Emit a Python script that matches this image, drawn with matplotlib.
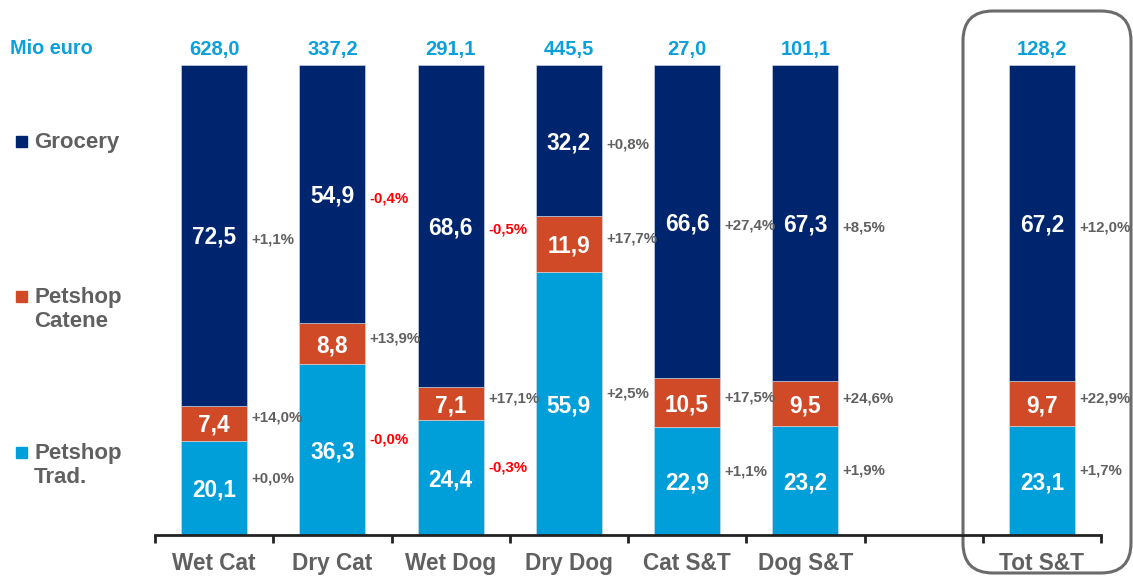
import matplotlib
matplotlib.use("Agg")
import matplotlib.pyplot as plt
from matplotlib.patches import FancyBboxPatch, Rectangle

plt.rcParams['font.family'] = ['Liberation Sans', 'DejaVu Sans']
plt.rcParams['font.weight'] = 'bold'

categories = ["Wet Cat", "Dry Cat", "Wet Dog", "Dry Dog", "Cat S&T", "Dog S&T", "Tot S&T"]
positions = [0, 1, 2, 3, 4, 5, 7]
totals = ["628,0", "337,2", "291,1", "445,5", "27,0", "101,1", "128,2"]

trad = [20.1, 36.3, 24.4, 55.9, 22.9, 23.2, 23.1]
catene = [7.4, 8.8, 7.1, 11.9, 10.5, 9.5, 9.7]
grocery = [72.5, 54.9, 68.6, 32.2, 66.6, 67.3, 67.2]

growth_trad_txt = ["+0,0%", "-0,0%", "-0,3%", "+2,5%", "+1,1%", "+1,9%", "+1,7%"]
growth_catene_txt = ["+14,0%", "+13,9%", "+17,1%", "+17,7%", "+17,5%", "+24,6%", "+22,9%"]
growth_grocery_txt = ["+1,1%", "-0,4%", "-0,5%", "+0,8%", "+27,4%", "+8,5%", "+12,0%"]

C_GRO = "#00256f"
C_CAT = "#d04a27"
C_TRAD = "#009fd9"
C_TOP = "#0aa0dc"
C_GRAY = "#606060"
C_RED = "#ff0000"

W, H = 1133, 576
fig = plt.figure(figsize=(W / 100, H / 100), dpi=100)

# background overlay in pixel coordinates
bg = fig.add_axes([0, 0, 1, 1])
bg.set_xlim(0, W)
bg.set_ylim(H, 0)
bg.axis('off')

ax = fig.add_axes([155 / W, (H - 535) / H, (1101 - 155) / W, 470 / H])
ax.set_xlim(-0.5, 7.5)
ax.set_ylim(0, 100)

bw = 0.56
segs = [(trad, C_TRAD), (catene, C_CAT), (grocery, C_GRO)]
bottoms = [0.0] * len(positions)
for vals, col in segs:
    ax.bar(positions, vals, bw, bottom=bottoms, color=col, edgecolor='#d9dde8', linewidth=0.4, zorder=2)
    for p, v, b in zip(positions, vals, bottoms):
        ax.annotate(f"{v:.1f}".replace('.', ','), (p, b + v / 2), xytext=(0, -1.5),
                    textcoords='offset points', ha='center', va='center',
                    color='white', fontsize=16.3, fontweight='bold', zorder=3)
    bottoms = [b + v for b, v in zip(bottoms, vals)]

def growth_color(t):
    return C_RED if t.startswith('-') else C_GRAY

b0 = [0.0] * len(positions)
for vals, txts, dy in [(trad, growth_trad_txt, 7), (catene, growth_catene_txt, 4), (grocery, growth_grocery_txt, -3)]:
    for i, (p, v, t) in enumerate(zip(positions, vals, txts)):
        ax.annotate(t, (p + bw / 2, b0[i] + v / 2), xytext=(3, dy), textcoords='offset points',
                    ha='left', va='center', fontsize=10.8, fontweight='bold', color=growth_color(t), zorder=3)
    b0 = [b + v for b, v in zip(b0, vals)]

for p, t in zip(positions, totals):
    ax.annotate(t, (p, 100), xytext=(0, 7), textcoords='offset points', ha='center', va='baseline',
                fontsize=14.5, fontweight='bold', color=C_TOP, annotation_clip=False)

for s in ['top', 'right', 'left']:
    ax.spines[s].set_visible(False)
ax.spines['bottom'].set_linewidth(2)
ax.spines['bottom'].set_color('#222222')
ax.set_yticks([])
ax.set_xticks(positions)
ax.set_xticklabels(categories, fontsize=16.3, fontweight='bold', color=C_GRAY)
ax.tick_params(axis='x', which='major', length=0, pad=12)
ax.set_xticks([x - 0.5 for x in range(9)], minor=True)
ax.tick_params(axis='x', which='minor', length=6, width=2, color='#222222', direction='out')
ax.patch.set_alpha(0)

# Mio euro
bg.text(10, 48, "Mio euro", ha='left', va='center', fontsize=14.3, fontweight='bold', color=C_TOP)

# legend
legend_items = [("Grocery", C_GRO, 141), ("Petshop\nCatene", C_CAT, 296), ("Petshop\nTrad.", C_TRAD, 452)]
for lab, col, y in legend_items:
    bg.add_patch(Rectangle((16, y - 5.5), 11, 11, color=col))
    bg.text(34, y - 9, lab, ha='left', va='top', fontsize=16, fontweight='bold', color=C_GRAY,
            linespacing=1.18)

# rounded box around total
box = FancyBboxPatch((963, 11), 1131 - 963, 573 - 11, boxstyle="round,pad=0,rounding_size=30",
                     fill=False, edgecolor='#6b6b6b', linewidth=2.2)
bg.add_patch(box)

fig.savefig("out.png", dpi=100)
